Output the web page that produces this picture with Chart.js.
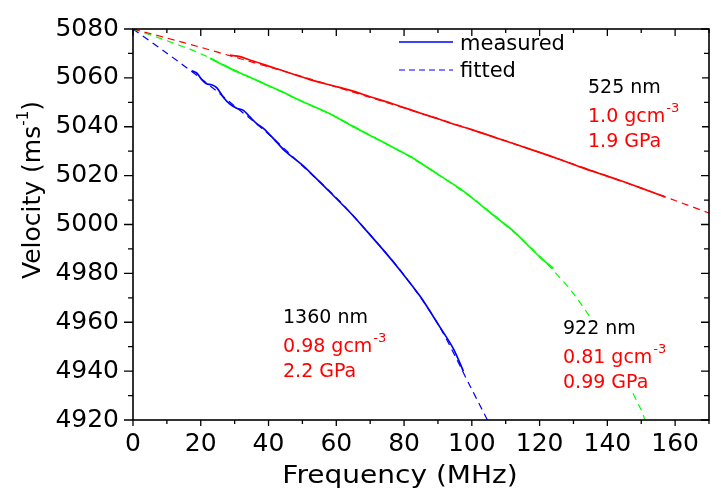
<!DOCTYPE html>
<html>
<head>
<meta charset="utf-8">
<script src="https://cdn.jsdelivr.net/npm/chart.js@4.4.1/dist/chart.umd.min.js"></script>
<style>
  html, body { margin: 0; padding: 0; background: #fff; }
</style>
</head>
<body>
<canvas id="myChart" width="721" height="489"></canvas>
<script>
// 525 nm film (red)
const freq525 = [28.6, 31.6, 34.5, 37.5, 40.5, 43.4, 47.8, 52.2, 58.1, 64, 70, 76, 84.7, 90, 94.5, 100, 108, 114.2, 120, 126, 131.9, 138, 144, 150, 157];
const meas525 = [5069.3, 5068.7, 5067.3, 5066, 5064.6, 5063.3, 5061.3, 5059.3, 5057.1, 5055, 5052.3, 5049.7, 5045.6, 5043.3, 5041.1, 5038.8, 5035.1, 5032.2, 5029.5, 5026.6, 5023.6, 5020.7, 5017.9, 5014.9, 5011.3];
const fitFreq525 = [0, 10, 20, 30, 40, 50, 60, 70, 80, 90, 100, 110, 120, 130, 140, 150, 160, 170];
const fit525 = [5080, 5076.3, 5072.5, 5068.5, 5064.5, 5060.5, 5056.3, 5052.0, 5047.7, 5043.3, 5038.8, 5034.2, 5029.5, 5024.7, 5019.8, 5014.9, 5009.8, 5004.7];

// 922 nm film (green)
const freq922 = [22.7, 25, 28, 31.6, 36, 40, 43.4, 50, 58.1, 65, 72.9, 78, 82.7, 90, 96.5, 100, 104.4, 108, 112.3, 116, 120.1, 124.1];
const meas922 = [5068, 5066.4, 5064.3, 5062, 5059.3, 5056.8, 5054.7, 5050.3, 5045.3, 5040, 5034.4, 5030.6, 5027.1, 5020.5, 5014.7, 5011, 5006, 5002, 4997.3, 4992.3, 4986.7, 4982];
const fitFreq922 = [0, 10, 20, 30, 40, 50, 60, 70, 80, 90, 100, 110, 120, 130, 140, 150, 151.1];
const fit922 = [5080, 5075.2, 5069.9, 5063.1, 5056.8, 5050.3, 5044, 5036.5, 5029.1, 5020.5, 5010.9, 4999.8, 4987, 4971.7, 4950.8, 4924.1, 4920];

// 1360 nm film (blue)
const freq1360 = [17.3, 18.8, 20.3, 21.7, 23.2, 24.7, 26.7, 28.6, 30.6, 32.6, 34.5, 36.5, 38.5, 40.4, 42.4, 44.9, 50, 54.2, 58.1, 64, 69, 74.4, 78.8, 84.7, 90.6, 94.5, 97.5];
const meas1360 = [5062.9, 5062, 5059.3, 5057.6, 5057.2, 5056, 5052, 5049.3, 5047.6, 5046.7, 5044, 5041.3, 5039.3, 5036.7, 5033.7, 5030, 5024.3, 5018.7, 5013.3, 5005, 4997.3, 4988.7, 4981.3, 4970.7, 4958, 4949.3, 4940];
const fitFreq1360 = [0, 10, 20, 30, 40, 50, 60, 70, 80, 90, 100, 104.6];
const fit1360 = [5080, 5070.1, 5059.8, 5048.5, 5037, 5024, 5011, 4995.8, 4979.3, 4959.3, 4932.5, 4920];

// axes
const xRange = [0, 170];
const yRange = [4920, 5080];
const xTitle = 'Frequency (MHz)';
const yTitle = 'Velocity (ms';
const ySup = '-1';

// legend + annotations text
const legendLabels = ['measured', 'fitted'];
const filmNames = ['525 nm', '922 nm', '1360 nm'];
const filmDensity = ['1.0 gcm', '0.81 gcm', '0.98 gcm'];
const filmModulus = ['1.9 GPa', '0.99 GPa', '2.2 GPa'];

const RED = '#ff0000', GREEN = '#00ff00', BLUE = '#0000ff';
const FONT = "'DejaVu Sans', sans-serif";

function pts(xs, ys) {
  return xs.map((x, i) => ({ x: x, y: ys[i] }));
}

function fitted(xs, ys, color) {
  return { data: pts(xs, ys), borderColor: color, borderWidth: 1.2, borderDash: [7, 5], pointRadius: 0, tension: 0.3, order: 2 };
}
function measured(xs, ys, color) {
  return { data: pts(xs, ys), borderColor: color, borderWidth: 1.7, pointRadius: 0, tension: 0.3, order: 1 };
}

// frame, ticks, titles, legend, labels
const extras = {
  id: 'extras',
  afterDraw(chart) {
    const ctx = chart.ctx;
    const a = chart.chartArea;
    const xs = chart.scales.x, ys = chart.scales.y;
    ctx.save();
    ctx.strokeStyle = '#000';
    ctx.lineWidth = 1.6;
    ctx.strokeRect(a.left, a.top, a.right - a.left, a.bottom - a.top);

    ctx.lineWidth = 1.3;
    ctx.beginPath();
    xs.ticks.forEach(t => {
      const p = xs.getPixelForValue(t.value);
      const major = t.value % 20 === 0;
      ctx.moveTo(p, a.bottom); ctx.lineTo(p, a.bottom + (major ? 6 : 4));
      ctx.moveTo(p, a.top); ctx.lineTo(p, a.top + (major ? 7 : 4));
    });
    ys.ticks.forEach(t => {
      const p = ys.getPixelForValue(t.value);
      const major = t.value % 20 === 0;
      ctx.moveTo(a.left, p); ctx.lineTo(a.left - (major ? 9 : 5), p);
      ctx.moveTo(a.right, p); ctx.lineTo(a.right - (major ? 8 : 5), p);
    });
    ctx.stroke();

    // x title
    ctx.fillStyle = '#000';
    ctx.save();
    ctx.font = '25px ' + FONT;
    ctx.textAlign = 'center';
    ctx.textBaseline = 'alphabetic';
    ctx.translate(400, 483);
    ctx.scale(1.12, 1);
    ctx.fillText(xTitle, 0, 0);
    ctx.restore();

    // y title with superscript
    ctx.save();
    ctx.translate(40, 190);
    ctx.rotate(-Math.PI / 2);
    ctx.font = '25px ' + FONT;
    const w1 = ctx.measureText(yTitle).width;
    ctx.font = '15px ' + FONT;
    const w2 = ctx.measureText(ySup).width;
    ctx.font = '25px ' + FONT;
    const w3 = ctx.measureText(')').width;
    let x0 = -(w1 + w2 + w3) / 2;
    ctx.textAlign = 'left';
    ctx.fillText(yTitle, x0, 0);
    ctx.font = '15px ' + FONT;
    ctx.fillText(ySup, x0 + w1, -12);
    ctx.font = '25px ' + FONT;
    ctx.fillText(')', x0 + w1 + w2, 0);
    ctx.restore();

    // legend
    ctx.strokeStyle = BLUE;
    ctx.lineWidth = 1.7;
    ctx.beginPath(); ctx.moveTo(399, 42); ctx.lineTo(453, 42); ctx.stroke();
    ctx.lineWidth = 1.2;
    ctx.setLineDash([6, 4]);
    ctx.beginPath(); ctx.moveTo(399, 70); ctx.lineTo(453, 70); ctx.stroke();
    ctx.setLineDash([]);
    ctx.font = '21px ' + FONT;
    ctx.textAlign = 'left';
    ctx.fillText(legendLabels[0], 460, 50);
    ctx.fillText(legendLabels[1], 460, 77);

    // film labels
    const spots = [[588, 93], [563, 334], [283, 323]];
    spots.forEach((s, i) => {
      const x = s[0], y = s[1];
      ctx.fillStyle = '#fff';
      ctx.fillRect(x - 4, y - 17, 118, 74);
      ctx.font = '19px ' + FONT;
      ctx.fillStyle = '#000';
      ctx.fillText(filmNames[i], x, y);
      ctx.fillStyle = RED;
      ctx.fillText(filmDensity[i], x, y + 29);
      const wd = ctx.measureText(filmDensity[i]).width;
      ctx.fillText(filmModulus[i], x, y + 54);
      ctx.font = '13px ' + FONT;
      ctx.fillText('-3', x + wd + 1, y + 19);
    });
    ctx.restore();
  }
};

new Chart(document.getElementById('myChart'), {
  type: 'line',
  data: {
    datasets: [
      fitted(fitFreq525, fit525, RED),
      fitted(fitFreq922, fit922, GREEN),
      fitted(fitFreq1360, fit1360, BLUE),
      measured(freq525, meas525, RED),
      measured(freq922, meas922, GREEN),
      measured(freq1360, meas1360, BLUE)
    ]
  },
  options: {
    responsive: false,
    devicePixelRatio: 1,
    animation: false,
    events: [],
    layout: { padding: { top: 20, right: 12, left: 0, bottom: 0 } },
    plugins: { legend: { display: false }, tooltip: { enabled: false } },
    scales: {
      x: {
        type: 'linear', min: xRange[0], max: xRange[1],
        grid: { display: false, drawTicks: false },
        border: { display: false },
        ticks: {
          stepSize: 10, autoSkip: false, maxRotation: 0, padding: 9,
          color: '#000', font: { family: FONT, size: 25 },
          callback: v => (v % 20 === 0 ? v : '')
        },
        afterFit: s => { s.height = 69; }
      },
      y: {
        type: 'linear', min: yRange[0], max: yRange[1],
        grid: { display: false, drawTicks: false },
        border: { display: false },
        ticks: {
          stepSize: 10, autoSkip: false, padding: 14,
          color: '#000', font: { family: FONT, size: 25 },
          callback: v => (v % 20 === 0 ? v : '')
        },
        afterFit: s => { s.width = 133; }
      }
    }
  },
  plugins: [extras]
});
</script>
</body>
</html>
